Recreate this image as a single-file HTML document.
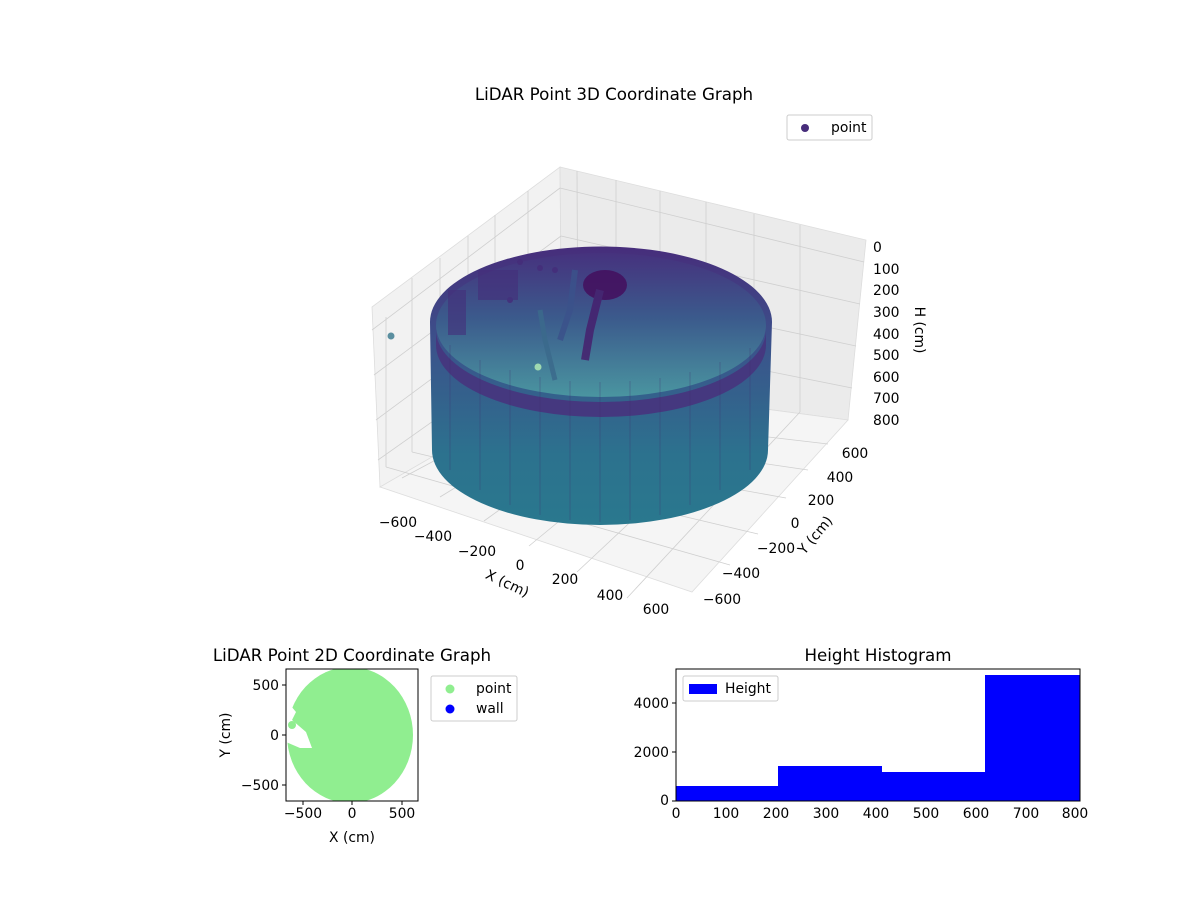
<!DOCTYPE html>
<html><head><meta charset="utf-8"><style>
body{margin:0;background:#fff}
text{font-family:"DejaVu Sans","Liberation Sans",sans-serif;fill:#000}
</style></head><body>
<svg width="1200" height="900" viewBox="0 0 1200 900" xmlns="http://www.w3.org/2000/svg">
<defs>
<linearGradient id="cyl" x1="0" y1="0" x2="0" y2="1">
<stop offset="0" stop-color="#472d7b"/><stop offset="0.35" stop-color="#3b528b"/><stop offset="0.75" stop-color="#2c728e"/><stop offset="1" stop-color="#2a788e"/>
</linearGradient>
<linearGradient id="inner" x1="0" y1="0" x2="0" y2="1">
<stop offset="0" stop-color="#46327e"/><stop offset="0.45" stop-color="#3b5a8c"/><stop offset="1" stop-color="#4a95a0"/>
</linearGradient>
</defs>
<text x="614" y="100" font-size="16.7" text-anchor="middle">LiDAR Point 3D Coordinate Graph</text>
<polygon points="372,307 560,167 562,382 380,487" fill="#f2f2f2" stroke="#ddd" stroke-width="0.8"/>
<polygon points="560,167 866,240 848,420 562,382" fill="#ebebeb" stroke="#ddd" stroke-width="0.8"/>
<polygon points="380,487 562,382 848,420 692,592" fill="#f5f5f5" stroke="#ddd" stroke-width="0.8"/>
<g stroke="#cfcfcf" stroke-width="0.8">
<line x1="402" y1="478" x2="578" y2="384"/><line x1="440" y1="497" x2="616" y2="389"/><line x1="484" y1="521" x2="660" y2="394"/><line x1="529" y1="546" x2="706" y2="400"/><line x1="577" y1="572" x2="754" y2="406"/><line x1="627" y1="598" x2="800" y2="412"/>
<line x1="730" y1="565" x2="386" y2="467"/><line x1="758" y1="534" x2="412" y2="452"/><line x1="786" y1="498" x2="440" y2="436"/><line x1="808" y1="470" x2="468" y2="420"/><line x1="828" y1="444" x2="495" y2="405"/>
<line x1="577" y1="171" x2="578" y2="384"/><line x1="616" y1="180" x2="616" y2="389"/><line x1="660" y1="191" x2="660" y2="394"/><line x1="706" y1="202" x2="706" y2="400"/><line x1="754" y1="214" x2="754" y2="406"/><line x1="800" y1="225" x2="800" y2="412"/>
<line x1="560" y1="188" x2="864" y2="262"/><line x1="561" y1="236" x2="860" y2="304"/><line x1="561" y1="283" x2="856" y2="346"/><line x1="562" y1="330" x2="852" y2="388"/>
<line x1="386" y1="317" x2="386" y2="467"/><line x1="412" y1="278" x2="412" y2="452"/><line x1="440" y1="258" x2="440" y2="436"/><line x1="468" y1="236" x2="468" y2="420"/><line x1="495" y1="215" x2="495" y2="405"/><line x1="528" y1="191" x2="528" y2="394"/>
<line x1="372" y1="330" x2="560" y2="188"/><line x1="374" y1="375" x2="561" y2="236"/><line x1="376" y1="420" x2="561" y2="283"/><line x1="378" y1="460" x2="562" y2="330"/>
</g>
<path d="M430,322 A170,75 0 0 1 772,322 L768,450 A168,75 0 0 1 432,450 Z" fill="url(#cyl)"/>
<ellipse cx="601" cy="325" rx="165" ry="72" fill="url(#inner)"/>
<path d="M436,330 A165,72 0 0 0 766,330 L766,345 A165,72 0 0 1 436,345 Z" fill="#45387f"/>
<g stroke="#3f2d6f" stroke-width="1" opacity="0.3">
<line x1="450" y1="345" x2="450" y2="470"/><line x1="480" y1="360" x2="480" y2="490"/><line x1="510" y1="370" x2="510" y2="505"/><line x1="540" y1="377" x2="540" y2="515"/><line x1="570" y1="381" x2="570" y2="520"/><line x1="600" y1="382" x2="600" y2="522"/><line x1="630" y1="381" x2="630" y2="520"/><line x1="660" y1="378" x2="660" y2="515"/><line x1="690" y1="372" x2="690" y2="505"/><line x1="720" y1="362" x2="720" y2="490"/><line x1="750" y1="348" x2="750" y2="470"/>
</g>
<g fill="#452d7a" opacity="0.85">
<rect x="478" y="270" width="40" height="30" opacity="0.7"/>
<rect x="448" y="290" width="18" height="45" opacity="0.7"/>
<circle cx="540" cy="268" r="3"/><circle cx="555" cy="270" r="3"/><circle cx="520" cy="262" r="3"/><circle cx="510" cy="300" r="3"/>
<ellipse cx="605" cy="285" rx="22" ry="15" fill="#440f5e"/>
<path d="M600,290 L590,330 L585,360" stroke="#46206e" stroke-width="8" fill="none"/>
<path d="M575,270 L570,310 L560,340" stroke="#3b528b" stroke-width="6" fill="none"/>
<path d="M540,310 L545,340 L555,380" stroke="#3b6a8c" stroke-width="5" fill="none"/>
</g>
<circle cx="391" cy="336" r="3.5" fill="#5b8fa0"/><circle cx="538" cy="367" r="3.5" fill="#9fd9b0"/>
<rect x="787" y="115" width="85" height="25" fill="#fff" stroke="#ccc" rx="2"/>
<circle cx="805" cy="128" r="4" fill="#472d7b"/>
<text x="831" y="132" font-size="13.9">point</text>
<g font-size="13.9" text-anchor="middle">
<text x="398" y="527">−600</text><text x="433" y="541">−400</text><text x="477" y="556">−200</text><text x="520" y="570">0</text><text x="565" y="584">200</text><text x="610" y="600">400</text><text x="656" y="614">600</text>
<text x="855" y="458">600</text><text x="840" y="482">400</text><text x="821" y="505">200</text><text x="795" y="528">0</text><text x="776" y="553">−200</text><text x="741" y="578">−400</text><text x="722" y="604">−600</text>
</g>
<text x="507" y="588" font-size="13.9" text-anchor="middle" transform="rotate(25 507 584)">X (cm)</text>
<text x="815" y="540" font-size="13.9" text-anchor="middle" transform="rotate(-50 815 535)">Y (cm)</text>
<g font-size="13.9">
<text x="873" y="252">0</text><text x="873" y="274">100</text><text x="873" y="295">200</text><text x="873" y="317">300</text><text x="873" y="339">400</text><text x="873" y="360">500</text><text x="873" y="382">600</text><text x="873" y="403">700</text><text x="873" y="425">800</text>
</g>
<text x="920" y="325" font-size="13.9" text-anchor="middle" transform="rotate(90 915 325)">H (cm)</text>
<text x="352" y="661" font-size="16.7" text-anchor="middle">LiDAR Point 2D Coordinate Graph</text>
<clipPath id="c2"><rect x="286" y="669" width="132" height="132"/></clipPath>
<g clip-path="url(#c2)">
<ellipse cx="350" cy="735" rx="63" ry="68" fill="#90ee90"/>
<path d="M286,700 L296,712 L292,720 L306,732 L312,748 L300,748 L286,742 Z" fill="#fff"/>
<circle cx="292" cy="725" r="4" fill="#90ee90"/>
</g>
<rect x="286" y="669" width="132" height="132" fill="none" stroke="#000"/>
<g font-size="13.9" text-anchor="end"><text x="279" y="690">500</text><text x="279" y="740">0</text><text x="279" y="790">−500</text></g>
<g font-size="13.9" text-anchor="middle"><text x="303" y="818">−500</text><text x="352" y="818">0</text><text x="402" y="818">500</text></g>
<g stroke="#000"><line x1="282" y1="685" x2="286" y2="685"/><line x1="282" y1="735" x2="286" y2="735"/><line x1="282" y1="785" x2="286" y2="785"/><line x1="303" y1="801" x2="303" y2="805"/><line x1="352" y1="801" x2="352" y2="805"/><line x1="402" y1="801" x2="402" y2="805"/></g>
<text x="352" y="842" font-size="13.9" text-anchor="middle">X (cm)</text>
<text x="230" y="735" font-size="13.9" text-anchor="middle" transform="rotate(-90 230 735)">Y (cm)</text>
<rect x="431" y="676" width="86" height="45" fill="#fff" stroke="#ccc" rx="2"/>
<circle cx="450" cy="689" r="4.5" fill="#90ee90"/><text x="476" y="693" font-size="13.9">point</text>
<circle cx="450" cy="709" r="4.5" fill="#0000ff"/><text x="476" y="713" font-size="13.9">wall</text>
<text x="878" y="661" font-size="16.7" text-anchor="middle">Height Histogram</text>
<g fill="#0000ff">
<rect x="676" y="786" width="103" height="15"/><rect x="778" y="766" width="104" height="35"/><rect x="881" y="772" width="105" height="29"/><rect x="985" y="675" width="95" height="126"/>
</g>
<rect x="676" y="669" width="404" height="132" fill="none" stroke="#000"/>
<g font-size="13.9" text-anchor="end"><text x="669" y="805">0</text><text x="669" y="757">2000</text><text x="669" y="708">4000</text></g>
<g stroke="#000"><line x1="672" y1="801" x2="676" y2="801"/><line x1="672" y1="752" x2="676" y2="752"/><line x1="672" y1="703" x2="676" y2="703"/></g>
<g font-size="13.9" text-anchor="middle"><text x="676" y="818">0</text><text x="726" y="818">100</text><text x="776" y="818">200</text><text x="826" y="818">300</text><text x="876" y="818">400</text><text x="926" y="818">500</text><text x="976" y="818">600</text><text x="1026" y="818">700</text><text x="1075" y="818">800</text></g>
<rect x="683" y="676" width="95" height="25" fill="#fff" stroke="#ccc" rx="2"/>
<rect x="689" y="684" width="28" height="10" fill="#0000ff"/><text x="725" y="693" font-size="13.9">Height</text>
</svg>
</body></html>
